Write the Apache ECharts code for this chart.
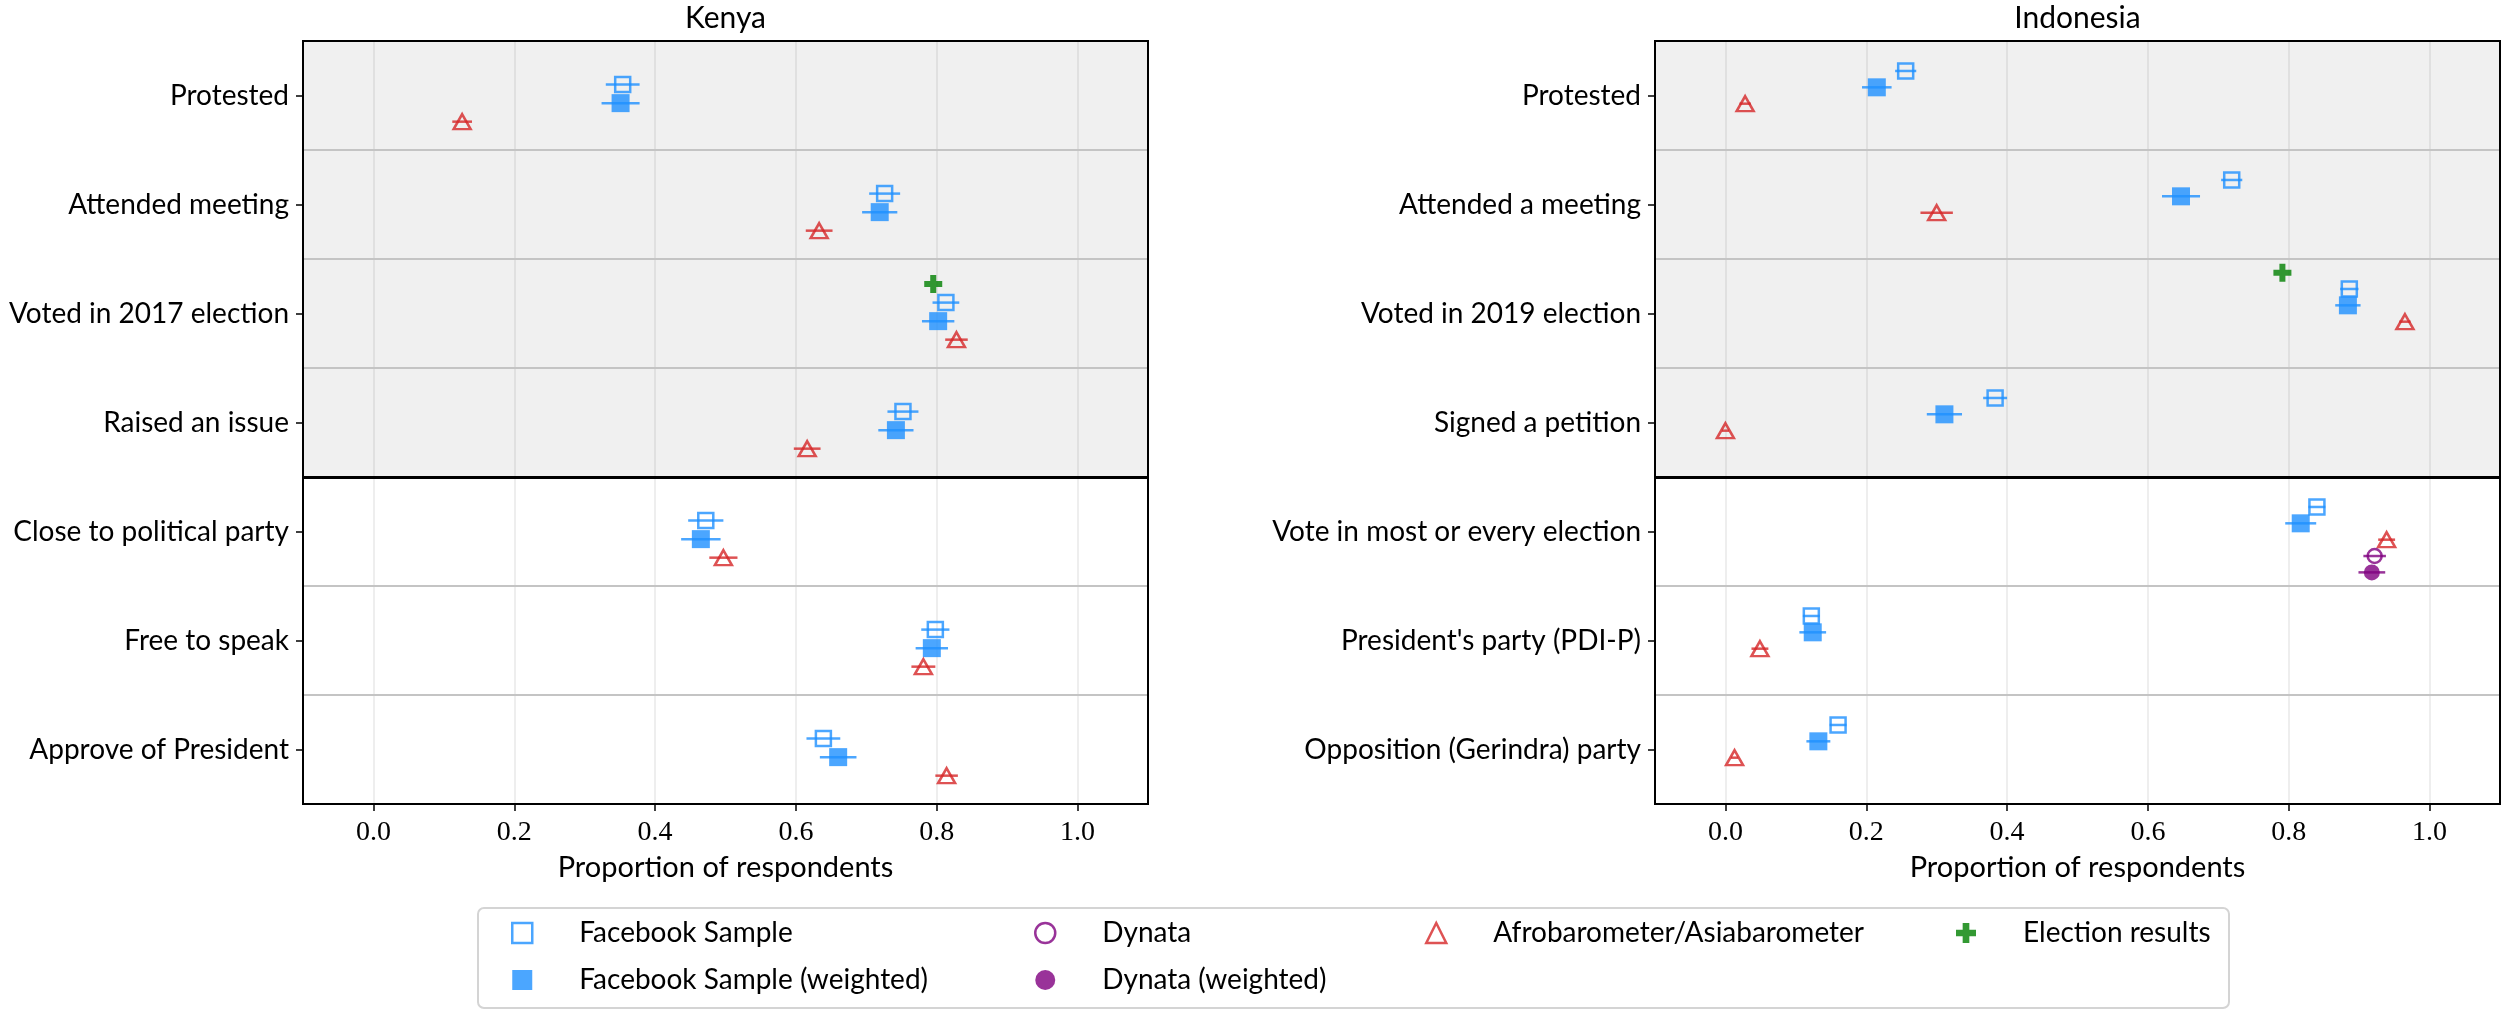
<!DOCTYPE html>
<html>
<head>
<meta charset="utf-8">
<script src="https://cdn.jsdelivr.net/npm/echarts@6.0.0/dist/echarts.min.js"></script>
<style>
html,body{margin:0;padding:0;background:#ffffff;}
#chart{width:2501px;height:1010px;}
</style>
</head>
<body>
<div id="chart"></div>
<script>
// ---------- categories ----------
const kenyaCategories = ['Protested', 'Attended meeting', 'Voted in 2017 election', 'Raised an issue',
  'Close to political party', 'Free to speak', 'Approve of President'];
const indonesiaCategories = ['Protested', 'Attended a meeting', 'Voted in 2019 election', 'Signed a petition',
  'Vote in most or every election', "President's party (PDI-P)", 'Opposition (Gerindra) party'];
const xTicks = [0.0, 0.2, 0.4, 0.6, 0.8, 1.0];

// ---------- Kenya values (proportion, half-width of interval) ----------
const kenyaFb       = [0.354, 0.726, 0.813, 0.752, 0.472, 0.798, 0.639];
const kenyaFbErr    = [0.024, 0.022, 0.019, 0.022, 0.025, 0.020, 0.024];
const kenyaFbW      = [0.351, 0.719, 0.802, 0.742, 0.465, 0.793, 0.660];
const kenyaFbWErr   = [0.027, 0.025, 0.023, 0.025, 0.028, 0.023, 0.026];
const kenyaAfro     = [0.126, 0.633, 0.828, 0.616, 0.497, 0.781, 0.814];
const kenyaAfroErr  = [0.014, 0.019, 0.016, 0.019, 0.020, 0.017, 0.016];
const kenyaElection = [null, null, 0.795, null, null, null, null];

// ---------- Indonesia values ----------
const indoFb         = [0.256, 0.719, 0.886, 0.383, 0.840, 0.122, 0.160];
const indoFbErr      = [0.015, 0.015, 0.013, 0.017, 0.012, 0.012, 0.012];
const indoFbW        = [0.215, 0.647, 0.884, 0.311, 0.817, 0.124, 0.132];
const indoFbWErr     = [0.021, 0.027, 0.018, 0.025, 0.022, 0.019, 0.017];
const indoAsia       = [0.028, 0.300, 0.965, 0.000, 0.939, 0.049, 0.013];
const indoAsiaErr    = [0.008, 0.023, 0.008, 0.005, 0.012, 0.012, 0.005];
const indoDynata     = [null, null, null, null, 0.922, null, null];
const indoDynataErr  = [null, null, null, null, 0.016, null, null];
const indoDynataW    = [null, null, null, null, 0.918, null, null];
const indoDynataWErr = [null, null, null, null, 0.019, null, null];
const indoElection   = [null, null, 0.791, null, null, null, null];

// ---------- styling ----------
const FONT = 'Lato';
const PLUS = 'path://M6,0H12V6H18V12H12V18H6V12H0V6H6Z';
const seriesStyle = {
  'Facebook Sample':             {color: '#1E90FF', symbol: 'rect',     size: 15,       open: true},
  'Facebook Sample (weighted)':  {color: '#1E90FF', symbol: 'rect',     size: 18,       open: false},
  'Dynata':                      {color: '#800080', symbol: 'circle',   size: 14,       open: true},
  'Dynata (weighted)':           {color: '#800080', symbol: 'circle',   size: 16,       open: false},
  'Afrobarometer/Asiabarometer': {color: '#D62728', symbol: 'triangle', size: [17, 15], open: true},
  'Election results':            {color: '#008000', symbol: PLUS,       size: 18,       open: false}
};

const panels = [
  {title: 'Kenya', cats: kenyaCategories, left: 303, groups: [
    {name: 'Election results', values: kenyaElection, errs: null, offset: -0.27},
    {name: 'Facebook Sample', values: kenyaFb, errs: kenyaFbErr, offset: -0.10},
    {name: 'Facebook Sample (weighted)', values: kenyaFbW, errs: kenyaFbWErr, offset: 0.07},
    {name: 'Afrobarometer/Asiabarometer', values: kenyaAfro, errs: kenyaAfroErr, offset: 0.24}
  ]},
  {title: 'Indonesia', cats: indonesiaCategories, left: 1655, groups: [
    {name: 'Election results', values: indoElection, errs: null, offset: -0.375},
    {name: 'Facebook Sample', values: indoFb, errs: indoFbErr, offset: -0.225},
    {name: 'Facebook Sample (weighted)', values: indoFbW, errs: indoFbWErr, offset: -0.075},
    {name: 'Afrobarometer/Asiabarometer', values: indoAsia, errs: indoAsiaErr, offset: 0.075},
    {name: 'Dynata', values: indoDynata, errs: indoDynataErr, offset: 0.225},
    {name: 'Dynata (weighted)', values: indoDynataW, errs: indoDynataWErr, offset: 0.375}
  ]}
];

const GRID_W = 845, GRID_TOP = 41, GRID_H = 763;
const rowIdx = [0, 1, 2, 3, 4, 5, 6];

function pointData(values, offset) {
  const out = [];
  values.forEach((v, i) => { if (v !== null) out.push([v, i + offset]); });
  return out;
}
function barData(values, errs, offset) {
  const out = [];
  values.forEach((v, i) => { if (v !== null && errs[i] !== null) out.push([v, i + offset, errs[i]]); });
  return out;
}

const grids = [], xAxes = [], yAxes = [], series = [], titles = [];
panels.forEach((p, g) => {
  grids.push({left: p.left, top: GRID_TOP, width: GRID_W, height: GRID_H, show: true,
    backgroundColor: 'rgba(0,0,0,0)', borderColor: '#000', borderWidth: 2, z: 10});
  titles.push({text: p.title, left: p.left + GRID_W / 2, top: 3, padding: 0, textAlign: 'center',
    textStyle: {fontFamily: FONT, fontSize: 30, fontWeight: 'normal', color: '#000'}});
  xAxes.push({type: 'value', gridIndex: g, min: -0.1, max: 1.1,
    name: 'Proportion of respondents', nameLocation: 'middle', nameGap: 49,
    nameTextStyle: {fontFamily: FONT, fontSize: 29, color: '#000'},
    splitLine: {show: false},
    axisLine: {show: true, onZero: false, lineStyle: {color: '#000', width: 2}},
    axisTick: {show: true, customValues: xTicks, length: 7, lineStyle: {color: '#000', width: 1.5}},
    axisLabel: {customValues: xTicks, formatter: v => v.toFixed(1), margin: 15,
      fontFamily: 'Liberation Serif', fontSize: 28, color: '#000'}});
  yAxes.push({type: 'value', gridIndex: g, min: -0.5, max: 6.5, inverse: true,
    splitLine: {show: false},
    axisLine: {show: true, onZero: false, lineStyle: {color: '#000', width: 2}},
    axisTick: {show: true, customValues: rowIdx, length: 7, lineStyle: {color: '#000', width: 1.5}},
    axisLabel: {customValues: rowIdx, formatter: v => p.cats[Math.round(v)], margin: 14,
      fontFamily: FONT, fontSize: 28, color: '#000'}});

  // background shading, vertical grid lines and row separators
  const lines = xTicks.map(t => ({xAxis: t, lineStyle: {color: 'rgba(0,0,0,0.09)', width: 1.5, type: 'solid'}}));
  [0.5, 1.5, 2.5, 4.5, 5.5].forEach(y => lines.push({yAxis: y, lineStyle: {color: '#c4c4c4', width: 2, type: 'solid'}}));
  lines.push({yAxis: 3.5, lineStyle: {color: '#000', width: 3, type: 'solid'}});
  series.push({type: 'scatter', name: '_frame' + g, xAxisIndex: g, yAxisIndex: g, data: [], silent: true,
    markArea: {silent: true, z: 1, itemStyle: {color: '#f0f0f0'}, label: {show: false},
      data: [[{yAxis: -0.5}, {yAxis: 3.5}]]},
    markLine: {silent: true, z: 2, symbol: ['none', 'none'], label: {show: false}, animation: false,
      data: lines}});

  p.groups.forEach(gr => {
    const st = seriesStyle[gr.name];
    series.push({type: 'scatter', name: gr.name, xAxisIndex: g, yAxisIndex: g, z: 5,
      symbol: st.symbol, symbolSize: st.size,
      itemStyle: st.open
        ? {color: 'rgba(0,0,0,0)', borderColor: st.color, borderWidth: 2.5, opacity: 0.8}
        : {color: st.color, borderWidth: 0, opacity: 0.8},
      emphasis: {disabled: true},
      data: pointData(gr.values, gr.offset)});
    if (gr.errs) {
      series.push({type: 'custom', name: gr.name, xAxisIndex: g, yAxisIndex: g, z: 6, silent: true,
        encode: {x: 0, y: 1},
        data: barData(gr.values, gr.errs, gr.offset),
        renderItem: (params, api) => {
          const x = api.value(0), y = api.value(1), e = api.value(2);
          const a = api.coord([x - e, y]), b = api.coord([x + e, y]);
          return {type: 'line', shape: {x1: a[0], y1: a[1], x2: b[0], y2: b[1]},
            style: {stroke: st.color, lineWidth: 2.5, opacity: 0.8}};
        }});
    }
  });
});

function legItem(name) {
  const st = seriesStyle[name];
  return {name: name, icon: st.symbol,
    itemStyle: st.open ? {color: '#ffffff', borderColor: st.color, borderWidth: 2.5}
                       : {color: st.color, borderWidth: 0}};
}
const legendText = {fontFamily: FONT, fontSize: 28, color: '#000', padding: [0, 0, 0, 42], lineHeight: 30};
function legend(left, names) {
  return {left: left, top: 918, orient: 'vertical', padding: 0, itemGap: 17, itemWidth: 20, itemHeight: 20,
    selectedMode: false, textStyle: legendText, data: names.map(legItem)};
}

const chart = echarts.init(document.getElementById('chart'), null, {renderer: 'canvas'});
chart.setOption({
  animation: false,
  backgroundColor: '#ffffff',
  title: titles,
  grid: grids,
  xAxis: xAxes,
  yAxis: yAxes,
  legend: [
    legend(511, ['Facebook Sample', 'Facebook Sample (weighted)']),
    legend(1034, ['Dynata', 'Dynata (weighted)']),
    legend(1425, ['Afrobarometer/Asiabarometer']),
    legend(1956, ['Election results'])
  ],
  graphic: [{type: 'rect', left: 477, top: 907, z: 0,
    shape: {width: 1751, height: 100, r: 6},
    style: {fill: '#ffffff', stroke: '#d4d4d4', lineWidth: 2}}],
  series: series
});
</script>
</body>
</html>
